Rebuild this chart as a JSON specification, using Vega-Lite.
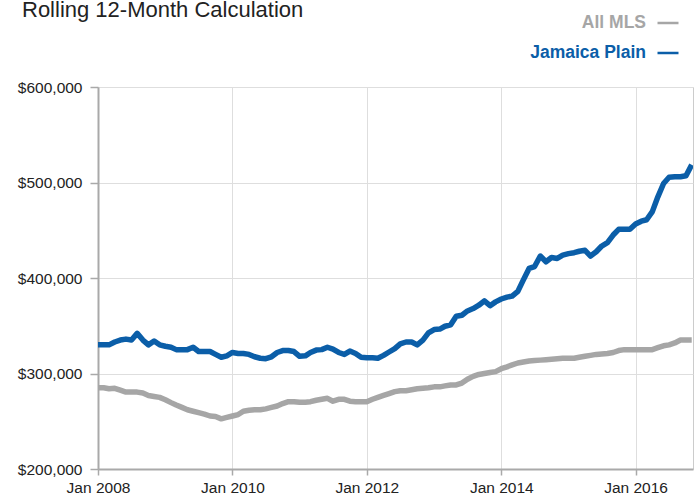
{
 "$schema": "https://vega.github.io/schema/vega-lite/v6.json",
 "width": 595,
 "height": 382,
 "autosize": {"type": "none"},
 "padding": {"left": 98, "top": 87, "right": 2, "bottom": 27},
 "background": "white",
 "title": {"text": "Rolling 12-Month Calculation", "anchor": "start", "frame": "group", "font": "Liberation Sans", "fontSize": 22, "fontWeight": "normal", "color": "#222222", "dx": -76, "dy": 11, "offset": 0},
 "config": {
  "view": {"stroke": "#cccccc", "strokeWidth": 1},
  "axis": {"labelFont": "Liberation Sans", "labelFontSize": 15.5, "labelColor": "#222222", "domainColor": "#a9a9a9", "domainWidth": 2, "tickColor": "#a9a9a9", "tickWidth": 1.5, "gridColor": "#dedede", "gridWidth": 1, "title": null}
 },
 "data": {"values": [
  {"date": "2008-01-01", "All MLS": 285000, "Jamaica Plain": 330000},
  {"date": "2008-02-01", "All MLS": 285000, "Jamaica Plain": 330000},
  {"date": "2008-03-01", "All MLS": 284000, "Jamaica Plain": 330000},
  {"date": "2008-04-01", "All MLS": 284500, "Jamaica Plain": 333000},
  {"date": "2008-05-01", "All MLS": 282500, "Jamaica Plain": 335000},
  {"date": "2008-06-01", "All MLS": 280500, "Jamaica Plain": 336000},
  {"date": "2008-07-01", "All MLS": 280500, "Jamaica Plain": 335000},
  {"date": "2008-08-01", "All MLS": 280500, "Jamaica Plain": 342000},
  {"date": "2008-09-01", "All MLS": 279500, "Jamaica Plain": 335000},
  {"date": "2008-10-01", "All MLS": 277000, "Jamaica Plain": 330000},
  {"date": "2008-11-01", "All MLS": 276000, "Jamaica Plain": 334000},
  {"date": "2008-12-01", "All MLS": 275000, "Jamaica Plain": 330000},
  {"date": "2009-01-01", "All MLS": 272500, "Jamaica Plain": 328500},
  {"date": "2009-02-01", "All MLS": 269500, "Jamaica Plain": 327500},
  {"date": "2009-03-01", "All MLS": 267000, "Jamaica Plain": 325000},
  {"date": "2009-04-01", "All MLS": 264500, "Jamaica Plain": 325000},
  {"date": "2009-05-01", "All MLS": 262000, "Jamaica Plain": 325000},
  {"date": "2009-06-01", "All MLS": 260500, "Jamaica Plain": 327500},
  {"date": "2009-07-01", "All MLS": 259000, "Jamaica Plain": 323000},
  {"date": "2009-08-01", "All MLS": 257500, "Jamaica Plain": 323000},
  {"date": "2009-09-01", "All MLS": 255500, "Jamaica Plain": 323000},
  {"date": "2009-10-01", "All MLS": 255000, "Jamaica Plain": 320000},
  {"date": "2009-11-01", "All MLS": 252500, "Jamaica Plain": 317000},
  {"date": "2009-12-01", "All MLS": 254000, "Jamaica Plain": 318500},
  {"date": "2010-01-01", "All MLS": 255500, "Jamaica Plain": 322000},
  {"date": "2010-02-01", "All MLS": 257000, "Jamaica Plain": 321000},
  {"date": "2010-03-01", "All MLS": 260500, "Jamaica Plain": 321000},
  {"date": "2010-04-01", "All MLS": 261500, "Jamaica Plain": 320000},
  {"date": "2010-05-01", "All MLS": 262000, "Jamaica Plain": 317500},
  {"date": "2010-06-01", "All MLS": 262000, "Jamaica Plain": 316000},
  {"date": "2010-07-01", "All MLS": 263000, "Jamaica Plain": 315500},
  {"date": "2010-08-01", "All MLS": 264500, "Jamaica Plain": 317500},
  {"date": "2010-09-01", "All MLS": 266000, "Jamaica Plain": 322000},
  {"date": "2010-10-01", "All MLS": 268500, "Jamaica Plain": 324000},
  {"date": "2010-11-01", "All MLS": 270500, "Jamaica Plain": 324000},
  {"date": "2010-12-01", "All MLS": 270500, "Jamaica Plain": 323000},
  {"date": "2011-01-01", "All MLS": 270000, "Jamaica Plain": 318000},
  {"date": "2011-02-01", "All MLS": 270000, "Jamaica Plain": 318500},
  {"date": "2011-03-01", "All MLS": 270500, "Jamaica Plain": 322000},
  {"date": "2011-04-01", "All MLS": 272000, "Jamaica Plain": 324500},
  {"date": "2011-05-01", "All MLS": 273000, "Jamaica Plain": 325000},
  {"date": "2011-06-01", "All MLS": 274000, "Jamaica Plain": 327500},
  {"date": "2011-07-01", "All MLS": 271000, "Jamaica Plain": 325500},
  {"date": "2011-08-01", "All MLS": 273000, "Jamaica Plain": 322000},
  {"date": "2011-09-01", "All MLS": 273000, "Jamaica Plain": 320000},
  {"date": "2011-10-01", "All MLS": 271000, "Jamaica Plain": 323500},
  {"date": "2011-11-01", "All MLS": 270500, "Jamaica Plain": 321000},
  {"date": "2011-12-01", "All MLS": 270500, "Jamaica Plain": 317000},
  {"date": "2012-01-01", "All MLS": 270500, "Jamaica Plain": 316500},
  {"date": "2012-02-01", "All MLS": 273000, "Jamaica Plain": 316500},
  {"date": "2012-03-01", "All MLS": 275000, "Jamaica Plain": 316000},
  {"date": "2012-04-01", "All MLS": 277000, "Jamaica Plain": 319000},
  {"date": "2012-05-01", "All MLS": 279000, "Jamaica Plain": 322500},
  {"date": "2012-06-01", "All MLS": 281000, "Jamaica Plain": 326000},
  {"date": "2012-07-01", "All MLS": 282000, "Jamaica Plain": 331000},
  {"date": "2012-08-01", "All MLS": 282000, "Jamaica Plain": 333000},
  {"date": "2012-09-01", "All MLS": 283000, "Jamaica Plain": 333000},
  {"date": "2012-10-01", "All MLS": 284000, "Jamaica Plain": 330000},
  {"date": "2012-11-01", "All MLS": 284500, "Jamaica Plain": 335000},
  {"date": "2012-12-01", "All MLS": 285000, "Jamaica Plain": 342500},
  {"date": "2013-01-01", "All MLS": 286000, "Jamaica Plain": 346000},
  {"date": "2013-02-01", "All MLS": 286000, "Jamaica Plain": 346500},
  {"date": "2013-03-01", "All MLS": 287000, "Jamaica Plain": 349500},
  {"date": "2013-04-01", "All MLS": 288000, "Jamaica Plain": 351000},
  {"date": "2013-05-01", "All MLS": 288000, "Jamaica Plain": 360000},
  {"date": "2013-06-01", "All MLS": 290000, "Jamaica Plain": 361000},
  {"date": "2013-07-01", "All MLS": 294000, "Jamaica Plain": 365500},
  {"date": "2013-08-01", "All MLS": 297000, "Jamaica Plain": 368000},
  {"date": "2013-09-01", "All MLS": 299000, "Jamaica Plain": 371500},
  {"date": "2013-10-01", "All MLS": 300000, "Jamaica Plain": 376000},
  {"date": "2013-11-01", "All MLS": 301000, "Jamaica Plain": 371000},
  {"date": "2013-12-01", "All MLS": 302000, "Jamaica Plain": 375000},
  {"date": "2014-01-01", "All MLS": 305000, "Jamaica Plain": 378000},
  {"date": "2014-02-01", "All MLS": 307000, "Jamaica Plain": 380000},
  {"date": "2014-03-01", "All MLS": 309000, "Jamaica Plain": 381000},
  {"date": "2014-04-01", "All MLS": 311000, "Jamaica Plain": 386000},
  {"date": "2014-05-01", "All MLS": 312000, "Jamaica Plain": 398000},
  {"date": "2014-06-01", "All MLS": 313000, "Jamaica Plain": 410000},
  {"date": "2014-07-01", "All MLS": 313500, "Jamaica Plain": 412000},
  {"date": "2014-08-01", "All MLS": 314000, "Jamaica Plain": 423000},
  {"date": "2014-09-01", "All MLS": 314500, "Jamaica Plain": 417000},
  {"date": "2014-10-01", "All MLS": 315000, "Jamaica Plain": 421500},
  {"date": "2014-11-01", "All MLS": 315500, "Jamaica Plain": 420500},
  {"date": "2014-12-01", "All MLS": 316000, "Jamaica Plain": 424000},
  {"date": "2015-01-01", "All MLS": 316000, "Jamaica Plain": 425500},
  {"date": "2015-02-01", "All MLS": 316000, "Jamaica Plain": 426500},
  {"date": "2015-03-01", "All MLS": 317000, "Jamaica Plain": 428000},
  {"date": "2015-04-01", "All MLS": 318000, "Jamaica Plain": 429000},
  {"date": "2015-05-01", "All MLS": 319000, "Jamaica Plain": 423000},
  {"date": "2015-06-01", "All MLS": 320000, "Jamaica Plain": 427500},
  {"date": "2015-07-01", "All MLS": 320500, "Jamaica Plain": 433500},
  {"date": "2015-08-01", "All MLS": 321000, "Jamaica Plain": 437000},
  {"date": "2015-09-01", "All MLS": 322000, "Jamaica Plain": 445000},
  {"date": "2015-10-01", "All MLS": 324000, "Jamaica Plain": 451000},
  {"date": "2015-11-01", "All MLS": 325000, "Jamaica Plain": 451000},
  {"date": "2015-12-01", "All MLS": 325000, "Jamaica Plain": 451000},
  {"date": "2016-01-01", "All MLS": 325000, "Jamaica Plain": 456500},
  {"date": "2016-02-01", "All MLS": 325000, "Jamaica Plain": 459500},
  {"date": "2016-03-01", "All MLS": 325000, "Jamaica Plain": 461000},
  {"date": "2016-04-01", "All MLS": 325000, "Jamaica Plain": 469500},
  {"date": "2016-05-01", "All MLS": 327000, "Jamaica Plain": 485000},
  {"date": "2016-06-01", "All MLS": 329000, "Jamaica Plain": 499000},
  {"date": "2016-07-01", "All MLS": 330000, "Jamaica Plain": 505500},
  {"date": "2016-08-01", "All MLS": 332000, "Jamaica Plain": 506000},
  {"date": "2016-09-01", "All MLS": 335000, "Jamaica Plain": 506000},
  {"date": "2016-10-01", "All MLS": 335000, "Jamaica Plain": 507000},
  {"date": "2016-11-01", "All MLS": 335000, "Jamaica Plain": 518500}
 ]},
 "transform": [{"fold": ["All MLS", "Jamaica Plain"], "as": ["series", "price"]}],
 "mark": {"type": "line", "strokeWidth": 5.5, "strokeJoin": "round", "clip": true},
 "encoding": {
  "x": {
   "field": "date", "type": "temporal",
   "scale": {"type": "utc", "domain": [{"year": 2008, "month": 1, "date": 1, "utc": true}, {"year": 2016, "month": 11, "date": 8, "utc": true}]},
   "axis": {
    "values": [{"year": 2008, "month": 1, "date": 1, "utc": true}, {"year": 2010, "month": 1, "date": 1, "utc": true}, {"year": 2012, "month": 1, "date": 1, "utc": true}, {"year": 2014, "month": 1, "date": 1, "utc": true}, {"year": 2016, "month": 1, "date": 1, "utc": true}],
    "format": "%b %Y", "tickSize": 6, "labelPadding": 5, "labelFlush": false, "labelOverlap": false
   }
  },
  "y": {
   "field": "price", "type": "quantitative",
   "scale": {"domain": [200000, 600000], "nice": false, "zero": false},
   "axis": {"values": [200000, 300000, 400000, 500000, 600000], "format": "$,.0f", "tickSize": 8, "labelPadding": 8}
  },
  "color": {
   "field": "series", "type": "nominal",
   "scale": {"domain": ["All MLS", "Jamaica Plain"], "range": ["#a6a6a6", "#0b5ea8"]},
   "legend": {
    "orient": "none", "legendX": 558, "legendY": -76, "direction": "vertical", "title": null,
    "symbolType": "stroke", "symbolSize": 441, "symbolStrokeWidth": 2.5,
    "labelAlign": "right", "labelOffset": -34, "labelFont": "Liberation Sans", "labelFontSize": 17.5, "labelFontWeight": "bold", "labelLimit": 300,
    "rowPadding": 9,
    "encode": {"labels": {"update": {"fill": {"scale": "color", "field": "value"}}}}
   }
  }
 }
}
